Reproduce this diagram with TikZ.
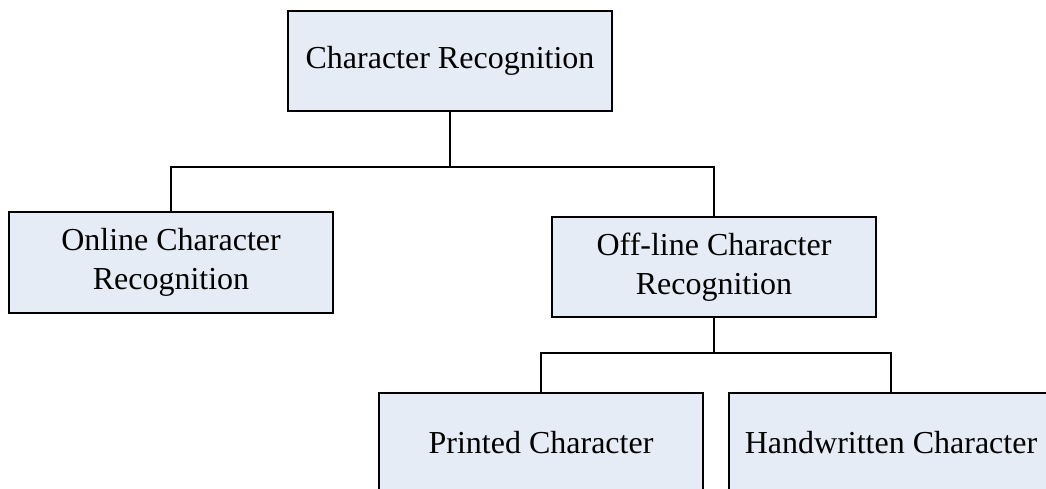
\documentclass[tikz,border=0pt]{standalone}
\usepackage{fontspec}
\setmainfont{Liberation Serif}
\definecolor{boxfill}{RGB}{230,236,246}
\tikzset{
  catbox/.style={draw=black, line width=2.2pt, fill=boxfill, minimum width=324pt, align=center, inner sep=0pt, font=\fontsize{32}{39}\selectfont},
  link/.style={draw=black, line width=2.2pt}
}
\begin{document}
\begin{tikzpicture}[x=1pt,y=-1pt]
\useasboundingbox (0,0) rectangle (1046,488);
\clip (0,0) rectangle (1046,488);
\node[catbox, minimum height=100pt] (top) at (450,61) {Character Recognition};
\node[catbox, minimum height=101pt] (online) at (171,262.5) {Online Character\\Recognition};
\node[catbox, minimum height=100pt] (offline) at (714,267) {Off-line Character\\Recognition};
\node[catbox, minimum height=100pt] (printed) at (541,443) {Printed Character};
\node[catbox, minimum height=100pt] (hand) at (891,443) {Handwritten Character};
\coordinate (j1) at (450,167);
\coordinate (j2) at (714,353);
\draw[link] (top.south) -- (j1);
\draw[link] (online.north) |- (j1) -| (offline.north);
\draw[link] (offline.south) -- (j2);
\draw[link] (printed.north) |- (j2) -| (hand.north);
\end{tikzpicture}
\end{document}
